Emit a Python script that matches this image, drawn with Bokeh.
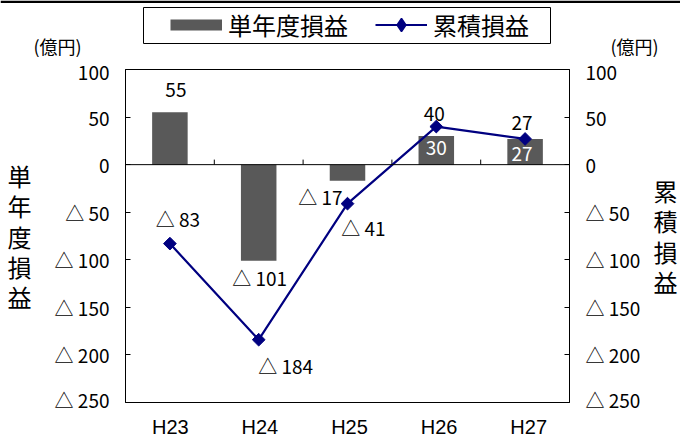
import math
from bokeh.plotting import figure
from bokeh.layouts import column
from bokeh.models import (ColumnDataSource, FactorRange, Range1d, LinearAxis, FixedTicker,
                          Span, LabelSet, Label, Legend, LegendItem)
from bokeh.embed import file_html
from bokeh.resources import INLINE
from bokeh.core.properties import value

# ---- data ----
categories = ["H23", "H24", "H25", "H26", "H27"]
annual = [55, -101, -17, 30, 27]          # 単年度損益
cumulative = [-83, -184, -41, 40, 27]     # 累積損益
y_ticks = [100, 50, 0, -50, -100, -150, -200, -250]


def fmt(v):
    return f"△ {-v}" if v < 0 else f"{v}"


# ---- label placement (px offsets, styles) ----
bar_dx = [6, 1, -27, 0, -3]
bar_dy = [22, -17, -16, -12, -15]
bar_color = ["black", "black", "black", "white", "white"]
cum_dx = [8, 27, 16, -2, -3]
cum_dy = [25, -26, -24, 13, 16]

FONT = "Noto Sans CJK JP"
LATIN = "Liberation Sans"
BAR_COLOR = "#595959"
LINE_COLOR = "#000080"
W = 680
HEAD_H = 57
FOOT_H = 25
LEFT_B, RIGHT_B = 125, W - 573
MAIN_H = 12 + 333 + 10

src = ColumnDataSource(data=dict(
    cat=categories, annual=annual, cum=cumulative,
    bar_text=[fmt(v) for v in annual], cum_text=[fmt(v) for v in cumulative],
    bar_dx=bar_dx, bar_dy=bar_dy, bar_color=bar_color, cum_dx=cum_dx, cum_dy=cum_dy,
))


def plain(fig):
    fig.frame_align = False
    fig.grid.visible = False
    fig.background_fill_color = "white"
    fig.border_fill_color = "white"


# ================= header (legend + units) =================
head = figure(width=W, height=HEAD_H, x_range=Range1d(0, W), y_range=Range1d(HEAD_H, 0),
              min_border=0, x_axis_location=None, y_axis_location=None, title=None,
              output_backend="svg", toolbar_location=None, tools="")
plain(head)
head.outline_line_color = None

# top rule of the page
head.add_layout(Span(location=1.2, dimension="width", line_color="black", line_width=2.5))

# legend frame
head.quad(left=[143], right=[550], top=[7], bottom=[43], fill_alpha=0,
          line_color="black", line_width=1)
off = [-1000, -999]
sw_bar = head.line(x=off, y=off, line_color=BAR_COLOR, line_width=11)
sw_line = head.line(x=off, y=off, line_color=LINE_COLOR, line_width=2.2)
sw_pt = head.scatter(x=off, y=off, marker="diamond", size=12,
                     fill_color=LINE_COLOR, line_color=LINE_COLOR, line_width=1.5)
legend = Legend(items=[LegendItem(label="単年度損益", renderers=[sw_bar]),
                       LegendItem(label="累積損益", renderers=[sw_line, sw_pt])],
                orientation="horizontal", location=(170, HEAD_H - 42),
                glyph_width=52, glyph_height=33, label_standoff=6, spacing=27,
                padding=0, margin=0, border_line_alpha=0, background_fill_alpha=0,
                label_text_font=FONT, label_text_font_size="24px",
                label_text_color="black", label_height=23)
head.add_layout(legend)

for ux in (57, 634):
    head.add_layout(Label(x=ux, y=45, text="(億円)", text_font=FONT, text_font_size="18px",
                          text_color="black", text_align="center", text_baseline="middle"))

# ================= main chart =================
x_range = FactorRange(*categories)
p = figure(x_range=x_range, y_range=Range1d(-250, 100),
           width=W, height=MAIN_H, min_border_left=LEFT_B, min_border_right=RIGHT_B,
           min_border_top=12, min_border_bottom=10, title=None, x_axis_location=None,
           output_backend="svg", toolbar_location=None, tools="")
plain(p)
p.outline_line_color = "black"
p.outline_line_width = 1


def style_axis(ax, title, standoff):
    ax.ticker = FixedTicker(ticks=y_ticks)
    ax.major_label_overrides = {t: fmt(t) for t in y_ticks}
    ax.major_tick_in = 5
    ax.major_tick_out = 0
    ax.minor_tick_in = 0
    ax.minor_tick_out = 0
    ax.axis_line_color = "black"
    ax.major_tick_line_color = "black"
    ax.major_label_text_font = FONT
    ax.major_label_text_font_size = "19px"
    ax.major_label_text_color = "black"
    ax.major_label_standoff = 16
    ax.axis_label = title
    ax.axis_label_orientation = "horizontal"
    ax.axis_label_standoff = standoff
    ax.axis_label_text_font = FONT
    ax.axis_label_text_font_size = "24px"
    ax.axis_label_text_font_style = "normal"
    ax.axis_label_text_color = "black"
    ax.axis_label_text_line_height = 0.86


style_axis(p.yaxis[0], "単\n年\n度\n損\n益", 20)
right = LinearAxis()
style_axis(right, "累\n積\n損\n益", 10)
p.add_layout(right, "right")

# zero line acting as category axis with boundary ticks
p.add_layout(Span(location=0, dimension="width", line_color="black", line_width=1))
bounds = list(range(1, len(categories)))
p.segment(x0=bounds, y0=[0] * len(bounds), x1=bounds, y1=[5.3] * len(bounds),
          line_color="black", line_width=1)

p.vbar(x="cat", top="annual", width=0.4, source=src, fill_color=BAR_COLOR, line_color=None)
p.line(x="cat", y="cum", source=src, line_color=LINE_COLOR, line_width=2.2)
p.scatter(x="cat", y="cum", source=src, marker="square", angle=math.pi / 4,
          size=9, fill_color=LINE_COLOR, line_color=LINE_COLOR)

common = dict(text_font=value(FONT), text_font_size="19px",
              text_align="center", text_baseline="middle")
p.add_layout(LabelSet(x="cat", y="annual", text="bar_text", x_offset="bar_dx",
                      y_offset="bar_dy", text_color="bar_color", source=src, **common))
p.add_layout(LabelSet(x="cat", y="cum", text="cum_text", x_offset="cum_dx",
                      y_offset="cum_dy", text_color="black", source=src, **common))

# ================= footer (category labels) =================
foot = figure(x_range=x_range, y_range=Range1d(FOOT_H, 0), width=W, height=FOOT_H,
              min_border_left=LEFT_B, min_border_right=RIGHT_B, min_border_top=0,
              min_border_bottom=0, x_axis_location=None, y_axis_location=None, title=None,
              output_backend="svg", toolbar_location=None, tools="")
plain(foot)
foot.outline_line_color = None
foot.add_layout(LabelSet(x="cat", y=14, text="cat", source=src, text_color="black",
                         text_font=value(LATIN), text_font_size="20px",
                         text_align="center", text_baseline="middle"))

layout = column(head, p, foot, spacing=0)
open("out.html", "w", encoding="utf-8").write(file_html(layout, INLINE))
